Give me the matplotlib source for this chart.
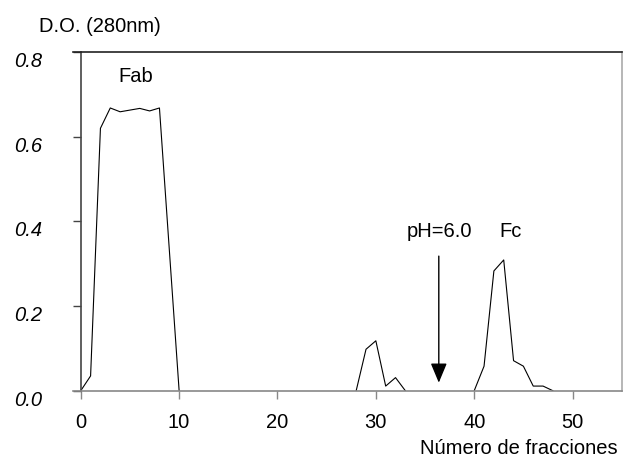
import numpy as np
import matplotlib
matplotlib.use('Agg')
import matplotlib.pyplot as plt

plt.rcParams['font.family'] = ['Liberation Sans', 'DejaVu Sans']

# Fab peak
fab_x = [0, 1, 2, 3, 4, 5, 6, 7, 8, 10]
fab_y = [0.0, 0.035, 0.62, 0.668, 0.659, 0.663, 0.667, 0.661, 0.668, 0.0]

# small peak
mid_x = [28, 29, 30, 31, 32, 33]
mid_y = [0.0, 0.098, 0.118, 0.011, 0.031, 0.0]

# Fc peak
fc_x = [40, 41, 42, 43, 44, 45, 46, 47, 48]
fc_y = [0.0, 0.058, 0.283, 0.309, 0.071, 0.058, 0.011, 0.011, 0.0]

x_ticks = [0, 10, 20, 30, 40, 50]
y_ticks = [0.0, 0.2, 0.4, 0.6, 0.8]

fs = 14.5

fig = plt.figure(figsize=(6.23, 4.57), dpi=100)
ax = fig.add_axes([0.117, 0.145, 0.881, 0.741])

# spine position first (it resets the ticks)
ax.spines['left'].set_position(('data', 0))
ax.spines['left'].set_color('#444444')
ax.spines['top'].set_color('#222222')
ax.spines['bottom'].set_color('#888888')
ax.spines['right'].set_color('#aaaaaa')
for s in ax.spines.values():
	s.set_linewidth(1.2)

for xs, ys in [(fab_x, fab_y), (mid_x, mid_y), (fc_x, fc_y)]:
	ax.plot(xs, ys, color='black', lw=0.8)

ax.set_xlim(-0.8, 55)
ax.set_ylim(0, 0.8)
ax.set_xticks(x_ticks)
ax.set_yticks(y_ticks)
ax.set_yticklabels(['%.1f' % v for v in y_ticks])
ax.tick_params(axis='y', direction='out', length=5.8, width=1, colors='#444444', labelsize=fs, labelcolor='black', pad=22)
ax.tick_params(axis='x', direction='out', length=5.8, width=1, colors='#888888', labelsize=fs, labelcolor='black', pad=10)
plt.setp(ax.get_yticklabels(), fontstyle='italic', va='top')

# pH change arrow
ax.annotate('', xy=(36.4, 0.019), xytext=(36.4, 0.318),
	arrowprops=dict(arrowstyle='-|>,head_length=1.2,head_width=0.5', color='black', lw=1, shrinkA=0, shrinkB=0))
ax.text(36.46, 0.364, 'pH=6.0', ha='center', va='baseline', fontsize=fs)
ax.text(43.7, 0.364, 'Fc', ha='center', va='baseline', fontsize=fs)
ax.text(5.64, 0.730, 'Fab', ha='center', va='baseline', fontsize=fs)

fig.text(0.0626, 0.9306, 'D.O. (280nm)', ha='left', va='baseline', fontsize=fs)
fig.text(0.992, 0.006, 'Número de fracciones', ha='right', va='baseline', fontsize=fs)

fig.savefig('out.png', dpi=100)
